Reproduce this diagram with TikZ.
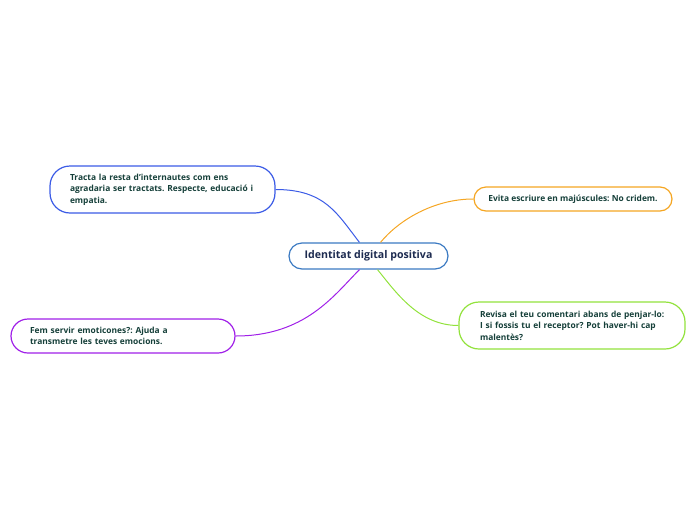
\documentclass[tikz,border=0pt]{standalone}
\usepackage{fontspec}
\setmainfont{Open Sans}
\usetikzlibrary{positioning}
\definecolor{rootblue}{HTML}{3B7AC2}
\definecolor{linkblue}{HTML}{3B5BE6}
\definecolor{linkorange}{HTML}{F5A623}
\definecolor{linkgreen}{HTML}{92E23C}
\definecolor{linkpurple}{HTML}{A020E8}
\definecolor{leaftext}{HTML}{16403A}
\definecolor{roottext}{HTML}{1D2B50}
\frenchspacing
\begin{document}
\begin{tikzpicture}[x=1pt, y=-1pt,
    leaf/.style={draw, line width=1.2pt, fill=white, rounded corners=#1, align=left,
        text=leaftext, font=\bfseries\fontsize{8.4}{11.5}\selectfont},
    root/.style={draw=rootblue, line width=1.2pt, fill=white, rounded corners=13pt,
        minimum width=159pt, minimum height=26pt, text=roottext,
        font=\bfseries\fontsize{10.6}{12}\selectfont},
    link/.style={line width=1pt}]
    \useasboundingbox (0,0) rectangle (696,520);

    % Central topic
    \node[root] (centre) at (368.5,256) {Identitat digital positiva};

    % Branches
    \node[leaf=20pt, draw=linkblue, text width=185pt, inner xsep=20pt, minimum height=47pt] (respect) at (162.5,189.5)
        {Tracta la resta d'internautes com ens\\\mbox{agradaria ser tractats. Respecte, educació i}\\empatia.};
    \node[leaf=12pt, draw=linkorange, minimum width=198pt, minimum height=24pt, align=center] (caps) at (573,199)
        {Evita escriure en majúscules: No cridem.};
    \node[leaf=20pt, draw=linkgreen, text width=184pt, inner xsep=21pt, minimum height=47pt] (review) at (572,325.5)
        {\mbox{Revisa el teu comentari abans de penjar-lo:}\\\mbox{I si fossis tu el receptor? Pot haver-hi cap}\\malentès?};
    \node[leaf=17pt, draw=linkpurple, text width=186pt, inner xsep=19pt, minimum height=34pt] (emoji) at (123,336)
        {Fem servir emoticones?: Ajuda a\\transmetre les teves emocions.};

    % Connectors
    \draw[link, linkblue] (respect.east) .. controls +(50,0) and +(-22,-28) .. ([xshift=-9pt]centre.north);
    \draw[link, linkorange] (caps.west) .. controls +(-40,0) and +(18,-22) .. ([xshift=12pt]centre.north);
    \draw[link, linkgreen] (review.west) .. controls +(-40,0) and +(18,22) .. ([xshift=9pt]centre.south);
    \draw[link, linkpurple] (emoji.east) .. controls +(70,0) and +(-25,25) .. ([xshift=-9pt]centre.south);
\end{tikzpicture}
\end{document}
